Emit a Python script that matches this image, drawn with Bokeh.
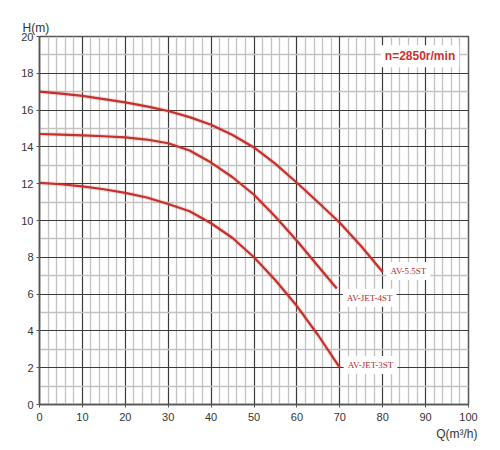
from bokeh.plotting import figure
from bokeh.models import Label, Title, FixedTicker, Range1d
from bokeh.embed import file_html
from bokeh.resources import INLINE

# ---- data ----
q_55 = [0, 5, 10, 15, 20, 25, 30, 35, 40, 45, 50, 55, 60, 65, 70, 75, 80]
h_55 = [17.0, 16.9, 16.77, 16.6, 16.42, 16.2, 15.95, 15.62, 15.2, 14.65, 13.97, 13.08, 12.05, 10.98, 9.88, 8.6, 7.2]

q_4 = [0, 5, 10, 15, 20, 25, 30, 35, 40, 45, 50, 55, 60, 65, 69.3]
h_4 = [14.7, 14.67, 14.63, 14.58, 14.52, 14.4, 14.2, 13.8, 13.15, 12.35, 11.4, 10.2, 8.9, 7.5, 6.3]

q_3 = [0, 5, 10, 15, 20, 25, 30, 35, 40, 45, 50, 55, 60, 65, 70]
h_3 = [12.05, 11.97, 11.85, 11.7, 11.5, 11.25, 10.9, 10.5, 9.85, 9.05, 8.0, 6.75, 5.35, 3.75, 2.0]

series_names = ["AV-5.5ST", "AV-JET-4ST", "AV-JET-3ST"]
x_ticks = [0, 10, 20, 30, 40, 50, 60, 70, 80, 90, 100]
y_ticks = [0, 2, 4, 6, 8, 10, 12, 14, 16, 18, 20]
speed_text = "n=2850r/min"

RED = "#c4302b"
TXT = "#333333"

p = figure(width=492, height=442, output_backend="svg", toolbar_location=None,
           x_range=Range1d(0, 100), y_range=Range1d(0, 20),
           min_border_left=39, min_border_right=24, min_border_top=36, min_border_bottom=38)
p.background_fill_color = "white"
p.border_fill_color = "white"
p.outline_line_color = "#555555"
p.outline_line_width = 1.5

for ax, ticks in ((p.xaxis[0], x_ticks), (p.yaxis[0], y_ticks)):
    ax.ticker = FixedTicker(ticks=ticks, minor_ticks=[])
    ax.major_tick_out = 3
    ax.major_tick_in = 0
    ax.minor_tick_out = 0
    ax.minor_tick_in = 0
    ax.major_tick_line_color = "#555555"
    ax.axis_line_color = "#555555"
    ax.axis_line_width = 1.5
    ax.major_label_text_font = "Liberation Sans"
    ax.major_label_text_font_size = "11px"
    ax.major_label_text_color = TXT
p.xaxis.major_label_standoff = 5
p.yaxis.major_label_standoff = 3

minor_x = [v for v in range(0, 101, 2) if v % 10]
minor_y = [v for v in range(0, 21) if v % 2]
p.xgrid.ticker = FixedTicker(ticks=x_ticks, minor_ticks=minor_x)
p.ygrid.ticker = FixedTicker(ticks=y_ticks, minor_ticks=minor_y)
for g in (p.xgrid[0], p.ygrid[0]):
    g.grid_line_color = "#3a3a3a"
    g.grid_line_width = 1.2
    g.minor_grid_line_color = "#c2c2c2"
    g.minor_grid_line_width = 1.3

for qs, hs in ((q_55, h_55), (q_4, h_4), (q_3, h_3)):
    p.line(qs, hs, line_color=RED, line_width=4.5, line_alpha=0.15, line_join="round")
    p.line(qs, hs, line_color=RED, line_width=2.2, line_join="round")

# series labels
ends = [(q_55[-1], h_55[-1]), (q_4[-1], h_4[-1]), (q_3[-1], h_3[-1])]
label_dx = [0.9, 1.4, 0.9]
label_dy = [0.05, -0.5, 0.15]
for name, (qe, he), dx, dy in zip(series_names, ends, label_dx, label_dy):
    p.add_layout(Label(x=qe + dx, y=he + dy, text=name, text_font="Liberation Serif",
                       text_font_size="9px", text_color="#b8282a", text_align="left",
                       text_baseline="middle", background_fill_color="white",
                       padding=4, border_line_color=None))

p.add_layout(Label(x=88.7, y=18.93, text=speed_text, text_font="Liberation Sans",
                   text_font_style="bold", text_font_size="12px", text_color="#d0312d",
                   text_align="center", text_baseline="middle",
                   background_fill_color="white", padding=4, border_line_color=None))

p.add_layout(Title(text="H(m)", align="left", offset=-17, standoff=4,
                   text_font="Liberation Sans", text_font_size="12px",
                   text_font_style="normal", text_color=TXT), "above")
p.add_layout(Title(text="Q(m³/h)", align="right", offset=-9, standoff=2,
                   text_font="Liberation Sans", text_font_size="12px",
                   text_font_style="normal", text_color=TXT), "below")

open("out.html", "w").write(file_html(p, INLINE))
